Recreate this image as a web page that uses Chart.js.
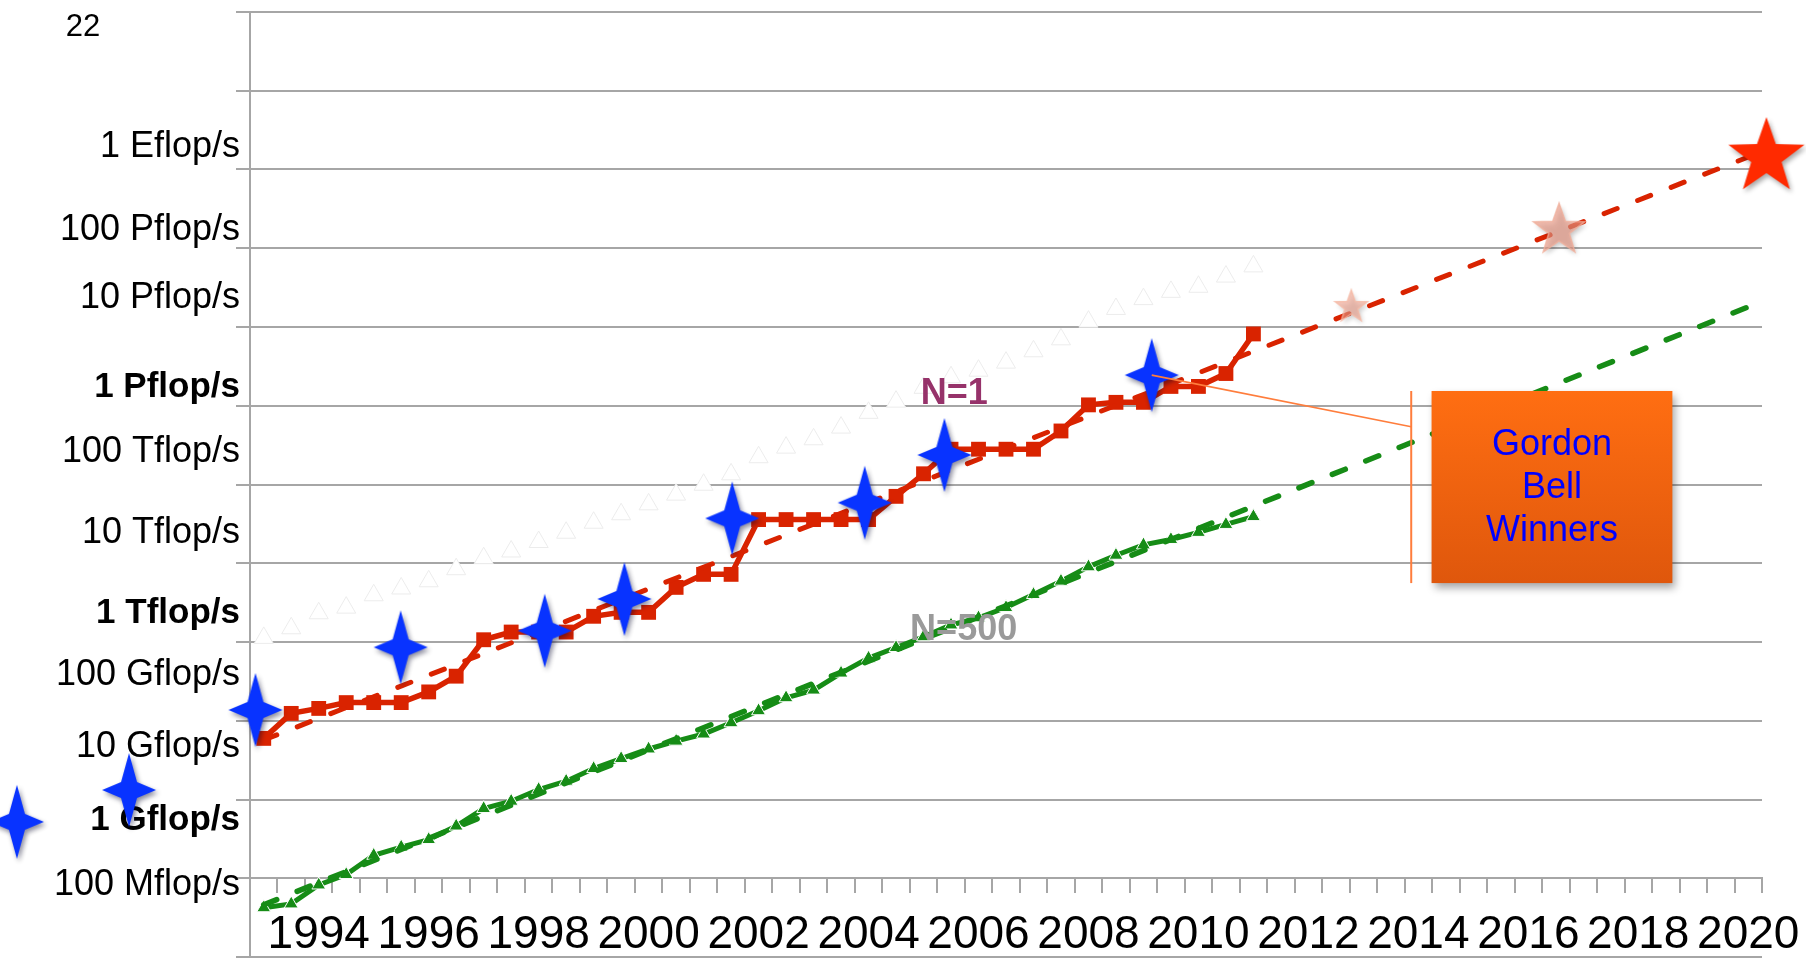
<!DOCTYPE html>
<html lang="en">
<head>
<meta charset="utf-8">
<title>Performance development</title>
<script src="https://cdn.jsdelivr.net/npm/chart.js@4.4.1/dist/chart.umd.min.js"></script>
<style>
    html, body { margin: 0; padding: 0; background: #fff; }
    #chart-box { width: 1806px; height: 961px; }
</style>
</head>
<body>
<div id="chart-box"><canvas id="performance-chart"></canvas></div>
<script>
// TOP500 lists, June and November, as half-year steps
const listDates = [1993, 1993.5, 1994, 1994.5, 1995, 1995.5, 1996, 1996.5, 1997, 1997.5,
    1998, 1998.5, 1999, 1999.5, 2000, 2000.5, 2001, 2001.5, 2002, 2002.5,
    2003, 2003.5, 2004, 2004.5, 2005, 2005.5, 2006, 2006.5, 2007, 2007.5,
    2008, 2008.5, 2009, 2009.5, 2010, 2010.5, 2011];

// all values in Gflop/s
const sumGflops = [1128, 1493, 2317, 2732, 3920, 4780, 5900, 8400, 11600, 14100,
    18600, 24400, 32700, 41900, 56000, 74400, 99300, 134600, 222000, 294000,
    375000, 528000, 813000, 1128000, 1690000, 2300000, 2790000, 3530000, 4920000, 6970000,
    11700000, 16950000, 22600000, 27950000, 32440000, 43660000, 58880000];
const n1Gflops = [59.7, 124, 143.4, 170, 170, 170, 232.4, 368.2, 1068, 1338,
    1338, 1338, 2121, 2379, 2379, 4938, 7226, 7226, 35860, 35860,
    35860, 35860, 35860, 70720, 136800, 280600, 280600, 280600, 280600, 478200,
    1026000, 1105000, 1105000, 1759000, 1759000, 2566000, 8162000];
const n500Gflops = [0.422, 0.472, 0.822, 1.114, 1.955, 2.489, 3.1, 4.6, 7.67, 9.51,
    13.4, 17.1, 24.7, 33.1, 43.8, 55.1, 67.8, 94.3, 134, 196,
    245, 403, 624, 851, 1166, 1646, 2026, 2737, 4005, 5929,
    9000, 12640, 17100, 20050, 24670, 31120, 39090];

// dashed extrapolations
const n1TrendYears = [1993, 2020];
const n1TrendGflops = [57, 1.44e9];
const n500TrendYears = [1993, 2020];
const n500TrendGflops = [0.46, 1.8e7];

// Gordon Bell winners (last two sit left of the axis in the slide)
const gordonBellYears = [1992.85, 1995.49, 1998.11, 1999.56, 2001.52, 2003.93, 2005.38, 2009.15, 1990.55, 1988.51];
const gordonBellGflops = [137, 857, 1390, 3516, 37200, 58700, 237000, 2450000, 13.2, 5.2];

// projected stars on the N=1 line
const targetYears = [2012.78, 2016.56, 2020.33];
const targetGflops = [1.8e7, 1.7e8, 1.44e9];

const yearLabels = [1994, 1996, 1998, 2000, 2002, 2004, 2006, 2008, 2010, 2012, 2014, 2016, 2018, 2020];
const yTickLabels = ["1 Eflop/s", "100 Pflop/s", "10 Pflop/s", "1 Pflop/s", "100 Tflop/s", "10 Tflop/s",
    "1 Tflop/s", "100 Gflop/s", "10 Gflop/s", "1 Gflop/s", "100 Mflop/s"];
const yTickLabelAt = [1.95e9, 1.7e8, 2.34e7, 1.7e6, 2.57e5, 2.4e4, 2340, 380, 46.8, 5.5, 0.81];
const yTickLabelBold = [false, false, false, true, false, false, true, false, false, true, false];

const FONT = "'Liberation Sans', Arial, sans-serif";
const GRID = "#a6a6a6";
const RED = "#d92300";
const GREEN = "#168c16";

// four pointed star used for the Gordon Bell markers
function sparkle(color) {
    const w = 54, h = 74, pad = 10, k = 8;
    const c = document.createElement("canvas");
    c.width = w + pad * 2;
    c.height = h + pad * 2;
    const g = c.getContext("2d");
    const cx = c.width / 2, cy = c.height / 2;
    g.shadowColor = "rgba(0, 0, 40, 0.45)";
    g.shadowBlur = 5;
    g.shadowOffsetX = 2;
    g.shadowOffsetY = 3;
    g.fillStyle = color;
    g.beginPath();
    g.moveTo(cx, cy - h / 2);
    g.lineTo(cx + k, cy - k);
    g.lineTo(cx + w / 2, cy);
    g.lineTo(cx + k, cy + k);
    g.lineTo(cx, cy + h / 2);
    g.lineTo(cx - k, cy + k);
    g.lineTo(cx - w / 2, cy);
    g.lineTo(cx - k, cy - k);
    g.closePath();
    g.fill();
    return c;
}

function star(outer, fill, stroke, shadow) {
    const pad = 10;
    const c = document.createElement("canvas");
    c.width = c.height = Math.ceil(outer * 2 + pad * 2);
    const g = c.getContext("2d");
    const cx = c.width / 2, cy = c.height / 2;
    g.beginPath();
    for (let i = 0; i < 10; i++) {
        const r = i % 2 ? outer * 0.4 : outer;
        const a = -Math.PI / 2 + i * Math.PI / 5;
        g.lineTo(cx + r * Math.cos(a), cy + r * Math.sin(a));
    }
    g.closePath();
    if (shadow) {
        g.shadowColor = "rgba(0, 0, 0, 0.35)";
        g.shadowBlur = 5;
        g.shadowOffsetX = 2;
        g.shadowOffsetY = 3;
    }
    g.fillStyle = fill;
    g.fill();
    g.shadowColor = "transparent";
    if (stroke) {
        g.strokeStyle = stroke;
        g.lineWidth = 1.5;
        g.stroke();
    }
    return c;
}

const pts = (xs, ys) => xs.map((x, i) => ({ x: x, y: ys[i] }));

// texts, callout and box that sit on top of the plot
const slideNotes = {
    id: "slideNotes",
    afterDatasetsDraw(chart) {
        const ctx = chart.ctx;
        const px = v => chart.scales.x.getPixelForValue(v);
        const py = v => chart.scales.y.getPixelForValue(v);
        ctx.save();

        ctx.fillStyle = "#000";
        ctx.font = "31px " + FONT;
        ctx.textAlign = "center";
        ctx.textBaseline = "middle";
        ctx.fillText("22", 83, 27);

        ctx.font = "bold 36px " + FONT;
        ctx.fillStyle = "#96326a";
        ctx.fillText("N=1", px(2005.56), py(1.41e6));
        ctx.fillStyle = "#9a9a9a";
        ctx.fillText("N=500", px(2005.73), py(1410));

        // callout
        const lx = px(2013.87);
        ctx.strokeStyle = "#ff7d3c";
        ctx.lineWidth = 1.6;
        ctx.beginPath();
        ctx.moveTo(px(gordonBellYears[7]), py(gordonBellGflops[7]));
        ctx.lineTo(lx, py(5.4e5));
        ctx.stroke();
        ctx.lineWidth = 2;
        ctx.beginPath();
        ctx.moveTo(lx, py(1.54e6));
        ctx.lineTo(lx, py(5600));
        ctx.stroke();

        // Gordon Bell box
        const x0 = px(2014.24), x1 = px(2018.62), y0 = py(1.54e6), y1 = py(5600);
        ctx.save();
        ctx.shadowColor = "rgba(0, 0, 0, 0.35)";
        ctx.shadowBlur = 8;
        ctx.shadowOffsetX = 3;
        ctx.shadowOffsetY = 5;
        const grad = ctx.createLinearGradient(0, y0, 0, y1);
        grad.addColorStop(0, "#ff6e12");
        grad.addColorStop(1, "#df570c");
        ctx.fillStyle = grad;
        ctx.fillRect(x0, y0, x1 - x0, y1 - y0);
        ctx.restore();

        ctx.fillStyle = "#0000ff";
        ctx.font = "36px " + FONT;
        const cy = (y0 + y1) / 2;
        ["Gordon", "Bell", "Winners"].forEach((t, i) => {
            ctx.fillText(t, (x0 + x1) / 2, cy + (i - 1) * 43 + 1);
        });
        ctx.restore();
    }
};

const chartData = {
    datasets: [
        {
            label: "Gordon Bell",
            type: "bubble",
            order: 0,
            data: pts(gordonBellYears, gordonBellGflops),
            pointStyle: sparkle("#0833ff"),
            radius: 240,
            borderWidth: 0,
            clip: false,
            xAxisID: "x",
            yAxisID: "y"
        },
        {
            label: "Targets",
            type: "bubble",
            order: 1,
            data: pts(targetYears, targetGflops),
            pointStyle: [
                star(17, "rgba(238, 160, 140, 0.6)", "rgba(245, 185, 165, 0.8)", true),
                star(27, "rgba(232, 150, 130, 0.65)", "rgba(240, 175, 155, 0.8)", true),
                star(40, "#ff2a00", null, true)
            ],
            radius: 60,
            borderWidth: 0,
            clip: false,
            xAxisID: "x",
            yAxisID: "y"
        },
        {
            label: "N=1 trend",
            order: 2,
            data: pts(n1TrendYears, n1TrendGflops),
            borderColor: RED,
            borderWidth: 5,
            borderDash: [14, 22],
            borderCapStyle: "round",
            pointRadius: 0,
            fill: false,
            xAxisID: "x",
            yAxisID: "y"
        },
        {
            label: "N=500 trend",
            order: 3,
            data: pts(n500TrendYears, n500TrendGflops),
            borderColor: GREEN,
            borderWidth: 5.5,
            borderDash: [14, 22],
            borderCapStyle: "round",
            pointRadius: 0,
            fill: false,
            xAxisID: "x",
            yAxisID: "y"
        },
        {
            label: "N=1",
            order: 4,
            data: pts(listDates, n1Gflops),
            borderColor: RED,
            backgroundColor: RED,
            borderWidth: 5.5,
            pointStyle: "rect",
            pointRadius: 10.5,
            pointBackgroundColor: RED,
            pointBorderWidth: 0,
            fill: false,
            xAxisID: "x",
            yAxisID: "y"
        },
        {
            label: "N=500",
            order: 5,
            data: pts(listDates, n500Gflops),
            borderColor: GREEN,
            backgroundColor: GREEN,
            borderWidth: 5,
            pointStyle: "triangle",
            pointRadius: 8,
            pointBackgroundColor: GREEN,
            pointBorderColor: "#ffffff",
            pointBorderWidth: 1,
            fill: false,
            xAxisID: "x",
            yAxisID: "y"
        },
        {
            label: "SUM",
            order: 6,
            data: pts(listDates, sumGflops),
            showLine: false,
            pointStyle: "triangle",
            pointRadius: 11,
            pointBackgroundColor: "#ffffff",
            pointBorderColor: "#ececec",
            pointBorderWidth: 1,
            xAxisID: "x",
            yAxisID: "y"
        }
    ]
};

const chartOptions = {
    responsive: true,
    maintainAspectRatio: false,
    animation: false,
    events: [],
    layout: {
        autoPadding: false,
        padding: { left: 0, right: 44, top: 12, bottom: 4 }
    },
    plugins: {
        legend: { display: false },
        tooltip: { enabled: false }
    },
    scales: {
        x: {
            type: "linear",
            min: 1992.75,
            max: 2020.25,
            position: { y: 1 },
            afterBuildTicks: scale => {
                scale.ticks = yearLabels.map(v => ({ value: v }));
            },
            afterFit: scale => {
                scale.paddingLeft = 0;
                scale.paddingRight = 0;
            },
            grid: { display: false, drawTicks: true, tickLength: 29 },
            border: { display: false },
            ticks: {
                autoSkip: false,
                maxRotation: 0,
                minRotation: 0,
                padding: 0,
                color: "#000",
                font: { family: FONT, size: 46 },
                callback: v => String(v)
            }
        },
        xt: {
            axis: "x",
            type: "linear",
            min: 1992.75,
            max: 2020.25,
            position: { y: 1 },
            afterBuildTicks: scale => {
                const t = [];
                for (let v = 1992.75; v <= 2020.3; v += 0.5) t.push({ value: v });
                scale.ticks = t;
            },
            afterFit: scale => {
                scale.paddingLeft = 0;
                scale.paddingRight = 0;
            },
            grid: { drawOnChartArea: false, drawTicks: true, tickLength: 14, color: GRID, lineWidth: 2 },
            border: { display: true, color: GRID, width: 2 },
            ticks: { display: false }
        },
        y: {
            type: "logarithmic",
            position: "left",
            min: 0.1,
            max: 1e11,
            afterBuildTicks: scale => {
                const t = [];
                for (let e = -1; e <= 11; e++) t.push({ value: Math.pow(10, e), decade: true });
                yTickLabels.forEach((txt, i) => {
                    t.push({ value: yTickLabelAt[i], txt: txt, bold: yTickLabelBold[i] });
                });
                t.sort((a, b) => a.value - b.value);
                scale.ticks = t;
            },
            afterFit: scale => {
                scale.width = 250;
                scale.paddingTop = 0;
                scale.paddingBottom = 0;
            },
            grid: {
                color: ctx => (ctx.tick && ctx.tick.decade) ? GRID : "rgba(0, 0, 0, 0)",
                lineWidth: 2,
                tickLength: 14
            },
            border: { color: GRID, width: 2 },
            ticks: {
                autoSkip: false,
                padding: -4,
                color: "#000",
                font: ctx => {
                    const bold = ctx.tick && ctx.tick.bold;
                    return { family: FONT, size: bold ? 35 : 36, weight: bold ? "bold" : "normal" };
                },
                callback: (v, i, ticks) => ticks[i].txt || ""
            }
        }
    }
};

new Chart(document.getElementById("performance-chart"), {
    type: "line",
    data: chartData,
    options: chartOptions,
    plugins: [slideNotes]
});
</script>
</body>
</html>
